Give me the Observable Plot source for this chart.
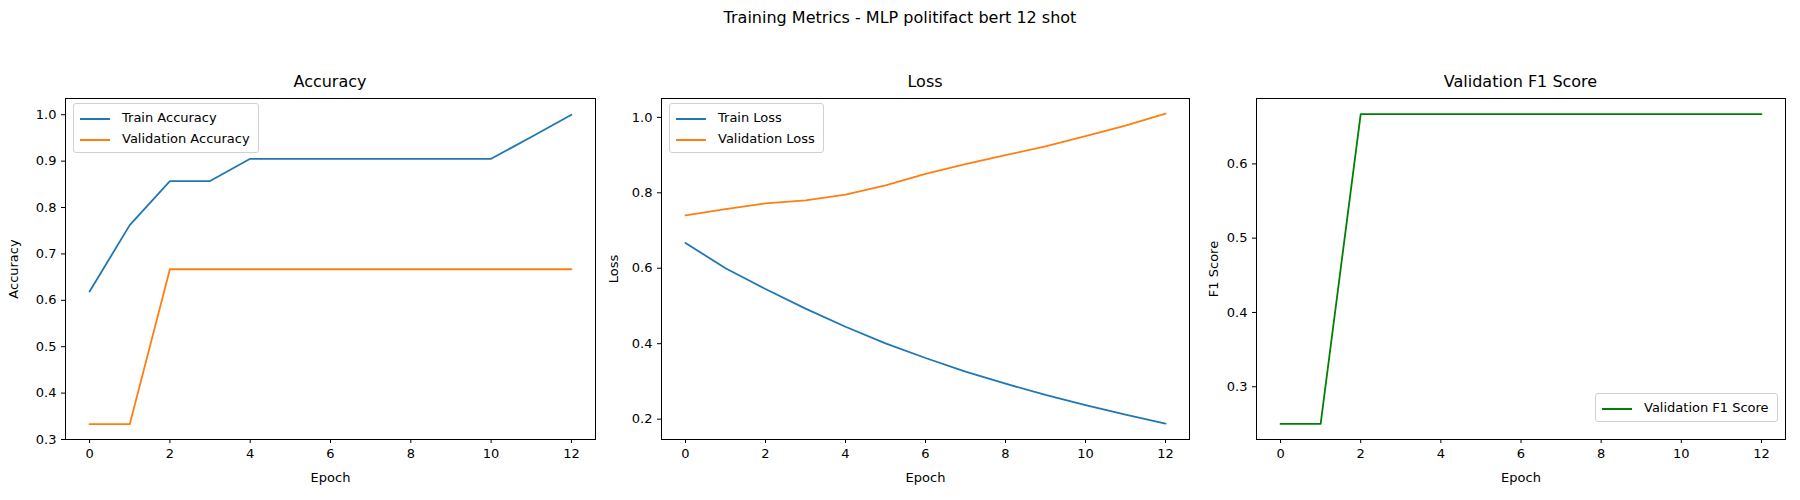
<!DOCTYPE html>
<html><head><meta charset="utf-8">
<script src="https://cdn.jsdelivr.net/npm/d3@7"></script>
<script src="https://cdn.jsdelivr.net/npm/@observablehq/plot@0.6"></script>
<style>
body{margin:0;background:#fff;font-family:"DejaVu Sans",sans-serif;}
#wrap{position:relative;width:1800px;height:500px;}
.abs{position:absolute;}
.ttl{font-size:16px;text-align:center;}
.leg{position:absolute;border:1px solid #d0d0d0;border-radius:3px;background:rgba(255,255,255,0.8);font-size:13px;padding:3px 8px 3px 6px;line-height:21px;}
.leg span.sw{display:inline-block;width:30px;height:0;border-top:2px solid;vertical-align:middle;margin-right:12px;}
</style></head><body>
<div id="wrap"></div>
<script>
const epochs=[0,1,2,3,4,5,6,7,8,9,10,11,12];
const trainAcc=[0.619,0.762,0.857,0.857,0.905,0.905,0.905,0.905,0.905,0.905,0.905,0.952,1.0];
const valAcc=[0.333,0.333,0.667,0.667,0.667,0.667,0.667,0.667,0.667,0.667,0.667,0.667,0.667];
const trainLoss=[0.667,0.600,0.545,0.493,0.445,0.401,0.362,0.326,0.294,0.264,0.237,0.212,0.188];
const valLoss=[0.740,0.757,0.772,0.780,0.795,0.820,0.850,0.876,0.900,0.923,0.950,0.978,1.010];
const valF1=[0.25,0.25,0.667,0.667,0.667,0.667,0.667,0.667,0.667,0.667,0.667,0.667,0.667];
const BLUE="#1f77b4",ORANGE="#ff7f0e",GREEN="#008000";
const wrap=document.getElementById("wrap");
function add(el,css){el.classList.add("abs");Object.assign(el.style,css);wrap.appendChild(el);return el;}
const t=document.createElement("div");t.className="ttl";t.textContent="Training Metrics - MLP politifact bert 12 shot";
add(t,{left:"0px",top:"8px",width:"1800px",fontSize:"16px"});

function panel(left,ml,mr,title,ylabel,ydom,yticks,series,legend,legPos){
  const marks=[Plot.frame({stroke:"black"})];
  for(const s of series){
    marks.push(Plot.line(epochs.map((e,i)=>({x:e,y:s.v[i]})),{x:"x",y:"y",stroke:s.c,strokeWidth:1.8}));
  }
  const p=Plot.plot({width:600,height:430,marginLeft:ml,marginRight:mr,marginTop:28,marginBottom:61,
    style:{fontFamily:"DejaVu Sans",fontSize:"13px",color:"black",background:"white"},
    x:{domain:[-0.6,12.6],ticks:[0,2,4,6,8,10,12],tickSize:4,label:"Epoch",labelAnchor:"center",labelArrow:"none",labelOffset:42},
    y:{domain:ydom,ticks:yticks,tickSize:4,tickFormat:d3.format(".1f"),label:ylabel,labelAnchor:"center",labelArrow:"none",labelOffset:ml-8},
    marks});
  add(p,{left:left+"px",top:"70px"});
  const h=document.createElement("div");h.className="ttl";h.textContent=title;
  add(h,{left:(left+ml)+"px",top:"72px",width:(600-ml-mr)+"px",fontSize:"16px"});
  const lg=document.createElement("div");lg.className="leg";
  lg.innerHTML=series.map(s=>`<div><span class="sw" style="border-color:${s.c}"></span>${s.n}</div>`).join("");
  wrap.appendChild(lg);Object.assign(lg.style,legPos);
}
panel(0,65,5,"Accuracy","Accuracy",[0.3,1.035],[0.3,0.4,0.5,0.6,0.7,0.8,0.9,1.0],
  [{v:trainAcc,c:BLUE,n:"Train Accuracy"},{v:valAcc,c:ORANGE,n:"Validation Accuracy"}],true,{left:"73px",top:"103px"});
panel(600,61,11,"Loss","Loss",[0.146,1.05],[0.2,0.4,0.6,0.8,1.0],
  [{v:trainLoss,c:BLUE,n:"Train Loss"},{v:valLoss,c:ORANGE,n:"Validation Loss"}],true,{left:"669px",top:"103px"});
panel(1200,56,15,"Validation F1 Score","F1 Score",[0.229,0.688],[0.3,0.4,0.5,0.6],
  [{v:valF1,c:GREEN,n:"Validation F1 Score"}],true,{left:"1595px",top:"393px"});
</script></body></html>
